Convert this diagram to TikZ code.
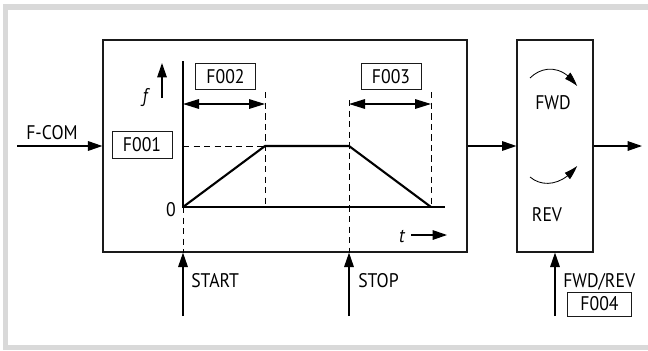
\documentclass[tikz,border=0pt]{standalone}
\usepackage{fontspec}
\setmainfont{PT Sans}[FakeStretch=0.9]
\usetikzlibrary{arrows.meta,bending}
\usepackage{xcolor}
\definecolor{framegray}{HTML}{D9D9D9}
\definecolor{linegray}{HTML}{1A1A1A}

\tikzset{
  box/.style={draw=linegray, line width=0.8pt, inner sep=0pt},
  parambox/.style={draw=linegray, line width=0.6pt, inner sep=0pt,
    minimum height=0.66cm, font=\fontsize{14}{16}\selectfont},
  lbl/.style={font=\fontsize{14}{16}\selectfont, inner sep=0pt},
  sig/.style={line width=0.9pt, -{Triangle[length=0.36cm, width=0.24cm]}},
  span/.style={line width=0.9pt, {Triangle[length=0.4cm, width=0.24cm]}-{Triangle[length=0.4cm, width=0.24cm]}},
  guide/.style={line width=0.6pt, dash pattern=on 4.5pt off 3pt},
  ramp/.style={line width=1.5pt, line join=miter},
  turn/.style={line width=0.6pt, -{Triangle[length=0.35cm, width=0.2cm, bend]}}
}

\begin{document}
\begin{tikzpicture}[x=0.025cm, y=-0.025cm]
  \useasboundingbox (0,0) rectangle (648,350);

  % Frame
  \fill[framegray] (3,4) rectangle (648,350);
  \fill[white] (8,10) rectangle (648,345);

  % Blocks
  \node[box, minimum width=9.1cm, minimum height=5.3cm] (ramp) at (285,146) {};
  \node[box, minimum width=1.9cm, minimum height=5.3cm] (dir) at (555,146) {};

  % Parameter boxes
  \node[parambox, minimum width=1.5cm]  (f001) at (142,145) {F001};
  \node[parambox, minimum width=1.52cm] (f002) at (225.5,76.5) {F002};
  \node[parambox, minimum width=1.5cm]  (f003) at (391,76.5) {F003};
  \node[parambox, minimum width=1.58cm, minimum height=0.6cm] (f004) at (599.5,304) {F004};

  % Axes of the ramp
  \coordinate (o)    at (183,207);
  \coordinate (ftop) at (183,61);
  \coordinate (tend) at (445,207);
  \coordinate (acc)  at (265,146);
  \coordinate (dec)  at (349,146);
  \coordinate (stp)  at (431,207);
  \draw[line width=1pt] (ftop) -- (o) -- (tend);
  \node[lbl, font=\fontsize{14}{16}\selectfont\itshape] (flbl) at (145,98) {f};
  \node[lbl] (zero) at (171,210) {0};
  \node[lbl, font=\fontsize{14}{16}\selectfont\itshape] (tlbl) at (402,236) {t};
  \coordinate (fa) at (162,98);
  \draw[sig] (fa) -- ++(0,-35);
  \coordinate (ta) at (411,235);
  \draw[sig] (ta) -- ++(36,0);

  % Ramp curve
  \draw[ramp] (o) -- (acc) -- (dec) -- (stp);

  % Guides
  \draw[guide] (o |- acc) -- (acc);
  \draw[guide] (acc |- f002.south) ++(0,2) -- (acc |- o);
  \draw[guide] (stp |- f003.south) ++(0,2) -- (stp);
  \draw[guide] (dec |- 0,100) -- (dec |- ramp.south);
  \draw[guide] (o) -- (o |- ramp.south);

  % Time spans
  \draw[span] (o |- 0,104) -- (acc |- 0,104);
  \draw[span] (dec |- 0,104) -- (stp |- 0,104);

  % Signals
  \coordinate (fcom) at (17,146);
  \draw[sig] (fcom) -- (ramp.west);
  \node[lbl] (fcomlbl) at (52,133) {F-COM};
  \draw[sig] (ramp.east) -- (dir.west);
  \coordinate (out) at (642,146);
  \draw[sig] (dir.east) -- (out);

  \coordinate (start) at (183,316);
  \draw[sig] (start) -- (start |- ramp.south);
  \node[lbl, anchor=west] (startlbl) at (191,281) {START};
  \coordinate (stop) at (349,316);
  \draw[sig] (stop) -- (stop |- ramp.south);
  \node[lbl, anchor=west] (stoplbl) at (358,281) {STOP};
  \coordinate (fr) at (555,316);
  \draw[sig] (fr) -- (fr |- dir.south);
  \node[lbl, anchor=west] (frlbl) at (563,282) {FWD/REV};

  % Direction
  \node[lbl] (fwd) at (553,103) {FWD};
  \node[lbl] (rev) at (547,215) {REV};
  \coordinate (fwda) at (530,78);
  \coordinate (fwdb) at (577,86);
  \draw[turn] (fwda) .. controls (542,66) and (562,64) .. (fwdb);
  \coordinate (reva) at (530,177);
  \coordinate (revb) at (577,166);
  \draw[turn] (reva) .. controls (543,188) and (563,185) .. (revb);
\end{tikzpicture}
\end{document}
